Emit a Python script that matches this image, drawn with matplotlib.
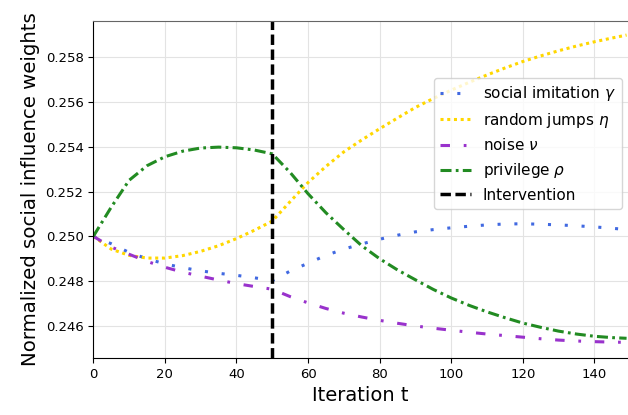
#! /usr/bin/python

"""
Social influence weights before / after the intervention at t = 50.
"""

# LIBRARIES
import matplotlib as mpl
mpl.use("Agg")
import matplotlib.pyplot as plt



# DATA
iterations = [0, 5, 10, 15, 20, 25, 30, 35, 40, 45, 50, 55, 60, 65, 70, 75,
              80, 85, 90, 95, 100, 105, 110, 115, 120, 125, 130, 135, 140,
              145, 149]

imitation = [0.25000, 0.24967, 0.24928, 0.24900, 0.24877, 0.24860, 0.24846,
             0.24835, 0.24826, 0.24815, 0.24802, 0.24845, 0.24880, 0.24915,
             0.24943, 0.24966, 0.24987, 0.25005, 0.25020, 0.25030, 0.25038,
             0.25045, 0.25051, 0.25055, 0.25056, 0.25054, 0.25051, 0.25047,
             0.25042, 0.25036, 0.25030]

jumps = [0.25000, 0.24943, 0.24915, 0.24903, 0.24903, 0.24914, 0.24933,
         0.24958, 0.24990, 0.25027, 0.25068, 0.25155, 0.25240, 0.25312,
         0.25377, 0.25430, 0.25480, 0.25528, 0.25575, 0.25615, 0.25652,
         0.25687, 0.25720, 0.25751, 0.25780, 0.25805, 0.25828, 0.25849,
         0.25868, 0.25885, 0.25898]

noise = [0.25000, 0.24952, 0.24920, 0.24888, 0.24862, 0.24840, 0.24822,
         0.24805, 0.24789, 0.24776, 0.24764, 0.24731, 0.24703, 0.24678,
         0.24657, 0.24640, 0.24625, 0.24612, 0.24600, 0.24590, 0.24581,
         0.24572, 0.24564, 0.24557, 0.24550, 0.24543, 0.24537, 0.24533,
         0.24530, 0.24528, 0.24527]

privilege = [0.25000, 0.25130, 0.25250, 0.25315, 0.25355, 0.25380, 0.25394,
             0.25398, 0.25395, 0.25385, 0.25368, 0.25285, 0.25190, 0.25105,
             0.25030, 0.24958, 0.24900, 0.24850, 0.24806, 0.24763, 0.24725,
             0.24692, 0.24663, 0.24637, 0.24613, 0.24594, 0.24577, 0.24564,
             0.24554, 0.24548, 0.24545]

intervention = 50

yticks = [0.246, 0.248, 0.250, 0.252, 0.254, 0.256, 0.258]
xticks = [0, 20, 40, 60, 80, 100, 120, 140]



def plotWeights():

    # Initialize plot
    mpl.rc("font", size = 9.5, family = "DejaVu Sans")
    fig = plt.figure(figsize = (6.28, 4.15), dpi = 100)
    ax = fig.add_axes([0.1486, 0.1373, 0.8514, 0.8133])

    # Curves
    ax.plot(iterations, imitation, ls = (0, (1, 4.5)), lw = 2.2,
            c = "royalblue", label = r"social imitation $\gamma$")
    ax.plot(iterations, jumps, ls = (0, (1, 1.2)), lw = 2.2, c = "gold",
            label = r"random jumps $\eta$")
    ax.plot(iterations, noise, ls = (0, (3.1, 4.5, 0.9, 4.5)), lw = 2.2,
            c = "darkorchid", label = r"noise $\nu$")
    ax.plot(iterations, privilege, ls = (0, (3.6, 1.4, 0.9, 1.4)), lw = 2.2,
            c = "forestgreen", label = r"privilege $\rho$")
    ax.axvline(intervention, ls = (0, (3, 1.3)), lw = 2.5, c = "black",
               label = "Intervention")

    # Axes
    ax.set_xlim(0, 149.4)
    ax.set_ylim(0.24457, 0.25963)
    ax.set_xticks(xticks)
    ax.set_yticks(yticks)
    ax.set_yticklabels(["%.3f" % y for y in yticks])
    ax.grid(True, color = "#e3e3e3", lw = 0.8)
    ax.set_axisbelow(True)
    ax.spines["right"].set_visible(False)
    ax.spines["top"].set_color("#666666")
    ax.set_xlabel("Iteration t", fontsize = 14)
    ax.set_ylabel("Normalized social influence weights", fontsize = 14.2)

    # Legend
    ax.legend(loc = "upper right", bbox_to_anchor = (0.990, 0.812),
              bbox_transform = fig.transFigure, borderaxespad = 0,
              fontsize = 11, framealpha = 0.8)

    fig.savefig("out.png", dpi = 100)



if __name__ == "__main__":
    plotWeights()
